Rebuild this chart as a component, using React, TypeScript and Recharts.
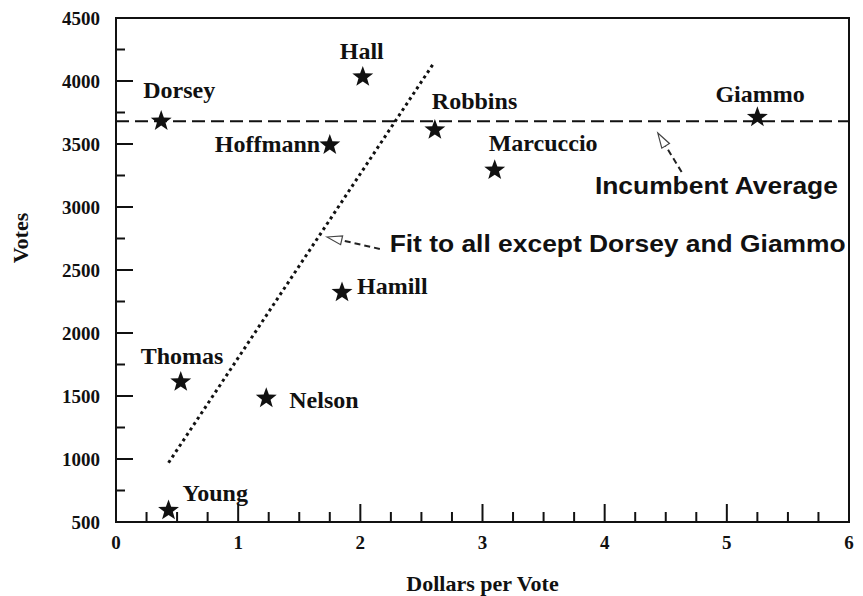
import { ComposedChart, Scatter, Line, XAxis, YAxis, ReferenceLine, ReferenceDot, ReferenceArea } from 'recharts';

// candidates: dollars spent per vote vs. votes received
const candidates = ['Dorsey', 'Hall', 'Robbins', 'Giammo', 'Hoffmann', 'Marcuccio', 'Hamill', 'Thomas', 'Nelson', 'Young'];
const dollarsPerVote = [0.37, 2.02, 2.61, 5.25, 1.75, 3.1, 1.85, 0.53, 1.23, 0.43];
const votes = [3690, 4040, 3620, 3720, 3500, 3300, 2330, 1620, 1490, 600];

// fit to all except Dorsey and Giammo
const fitX = [0.43, 2.6];
const fitY = [970, 4140];

const incumbentAverage = 3680;

const xTicks = Array.from({ length: 25 }, (_, i) => i * 0.25);
const yTicks = Array.from({ length: 17 }, (_, i) => 500 + i * 250);

const incumbentNote = { text: 'Incumbent Average', x: 3.92, y: 3167, arrowFrom: { x: 4.63, y: 3278 }, arrowTo: { x: 4.435, y: 3587 } };
const fitNote = { text: 'Fit to all except Dorsey and Giammo', x: 2.24, y: 2706, arrowFrom: { x: 2.16, y: 2667 }, arrowTo: { x: 1.727, y: 2762 } };

const points = candidates.map((name, i) => ({ name, x: dollarsPerVote[i], y: votes[i] }));
const fitLine = fitX.map((x, i) => ({ x, y: fitY[i] }));

// where each name sits relative to its star: [dx to text start, dy to text middle]
const labelOffsets: Record<string, [number, number]> = {
  Dorsey: [-18, -30],
  Hall: [-23, -25],
  Robbins: [-3, -28],
  Giammo: [-42, -23],
  Hoffmann: [-115, 0],
  Marcuccio: [-6, -27],
  Hamill: [15, -6],
  Thomas: [-40, -25],
  Nelson: [23, 2],
  Young: [14, -17],
};

const serif = '"Liberation Serif", "Times New Roman", serif';
const sans = '"Liberation Sans", Arial, sans-serif';
const ink = '#111';

const Star = (props: any) => {
  const { cx, cy, payload } = props;
  const pts: string[] = [];
  for (let k = 0; k < 10; k++) {
    const r = k % 2 === 0 ? 11 : 4.5;
    const a = -Math.PI / 2 + (k * Math.PI) / 5;
    pts.push(`${cx + r * Math.cos(a)},${cy + 1 + r * Math.sin(a)}`);
  }
  const [dx, dy] = labelOffsets[payload.name] || [12, 0];
  return (
    <g>
      <polygon points={pts.join(' ')} fill={ink} />
      <text x={cx + dx} y={cy + dy} dy="0.35em" fontFamily={serif} fontWeight="bold" fontSize={24} fill={ink}>
        {payload.name}
      </text>
    </g>
  );
};

const YTick = (props: any) => {
  const { x, y, payload } = props;
  const v = payload.value;
  const major = v % 500 === 0;
  return (
    <g>
      <line x1={x} y1={y} x2={x + (major ? 17 : 9)} y2={y} stroke={ink} strokeWidth={2} />
      {major && (
        <text x={x - 16} y={y} dy="0.35em" textAnchor="end" fontFamily={serif} fontWeight="bold" fontSize={19} fill={ink}>
          {v}
        </text>
      )}
    </g>
  );
};

const XTick = (props: any) => {
  const { x, y, payload } = props;
  const v = payload.value;
  const major = Number.isInteger(v);
  return (
    <g>
      <line x1={x} y1={y} x2={x} y2={y - (major ? 18 : 10)} stroke={ink} strokeWidth={2} />
      {major && (
        <text x={x} y={y + 20} dy="0.35em" textAnchor="middle" fontFamily={serif} fontWeight="bold" fontSize={19} fill={ink}>
          {v}
        </text>
      )}
    </g>
  );
};

const Arrow = (p: any) => {
  const { x1, y1, x2, y2 } = p;
  const dx = x2 - x1;
  const dy = y2 - y1;
  const len = Math.hypot(dx, dy) || 1;
  const ux = dx / len;
  const uy = dy / len;
  const head = 15;
  const half = 4.5;
  const bx = x2 - ux * head;
  const by = y2 - uy * head;
  return (
    <g>
      <line x1={x1} y1={y1} x2={bx} y2={by} stroke="#222" strokeWidth={2} strokeDasharray="6 4" />
      <polygon
        points={`${x2},${y2} ${bx - uy * half},${by + ux * half} ${bx + uy * half},${by - ux * half}`}
        fill="#fff"
        stroke="#444"
        strokeWidth={1.2}
      />
    </g>
  );
};

const noteText = (text: string, width: number) => (p: any) => (
  <text
    x={p.cx}
    y={p.cy}
    dy="0.35em"
    fontFamily={sans}
    fontWeight="bold"
    fontSize={24}
    fill={ink}
    textLength={width}
    lengthAdjust="spacingAndGlyphs"
  >
    {text}
  </text>
);

const YTitle = (props: any) => {
  const vb = props.viewBox || { x: 115, y: 18, width: 1, height: 504 };
  const cx = 20;
  const cy = vb.y + vb.height / 2 - 32;
  return (
    <text x={cx} y={cy} dy="0.35em" textAnchor="middle" transform={`rotate(-90 ${cx} ${cy})`} fontFamily={serif} fontWeight="bold" fontSize={22} fill={ink}>
      Votes
    </text>
  );
};

const XTitle = (props: any) => {
  const vb = props.viewBox || { x: 116, y: 522, width: 733, height: 1 };
  return (
    <text x={vb.x + vb.width / 2} y={vb.y + 61} dy="0.35em" textAnchor="middle" fontFamily={serif} fontWeight="bold" fontSize={22} fill={ink}>
      Dollars per Vote
    </text>
  );
};

export default function App() {
  return (
    <div style={{ position: 'absolute', left: 0, top: 0, width: 863, height: 596, background: '#fff' }}>
      <ComposedChart width={863} height={596} margin={{ top: 18, right: 14, bottom: 73, left: 115 }}>
        <XAxis
          type="number"
          dataKey="x"
          domain={[0, 6]}
          ticks={xTicks}
          interval={0}
          height={1}
          tickSize={0}
          tickMargin={0}
          tickLine={false}
          axisLine={false}
          tick={<XTick />}
          allowDataOverflow
          label={{ content: <XTitle /> }}
        />
        <YAxis
          type="number"
          dataKey="y"
          domain={[500, 4500]}
          ticks={yTicks}
          interval={0}
          width={1}
          tickSize={0}
          tickMargin={0}
          tickLine={false}
          axisLine={false}
          tick={<YTick />}
          allowDataOverflow
          label={{ content: <YTitle /> }}
        />
        <ReferenceArea x1={0} x2={6} y1={500} y2={4500} fill="none" fillOpacity={0} stroke={ink} strokeWidth={2} />
        <ReferenceLine y={incumbentAverage} stroke={ink} strokeWidth={2} strokeDasharray="13 6" />
        <Line
          data={fitLine}
          dataKey="y"
          type="linear"
          stroke={ink}
          strokeWidth={3}
          strokeDasharray="3 3.5"
          dot={false}
          activeDot={false}
          isAnimationActive={false}
        />
        <Scatter data={points} shape={<Star />} isAnimationActive={false} />
        <ReferenceLine segment={[incumbentNote.arrowFrom, incumbentNote.arrowTo]} shape={<Arrow />} />
        <ReferenceLine segment={[fitNote.arrowFrom, fitNote.arrowTo]} shape={<Arrow />} />
        <ReferenceDot x={incumbentNote.x} y={incumbentNote.y} r={0} shape={noteText(incumbentNote.text, 243)} />
        <ReferenceDot x={fitNote.x} y={fitNote.y} r={0} shape={noteText(fitNote.text, 456)} />
      </ComposedChart>
    </div>
  );
}
